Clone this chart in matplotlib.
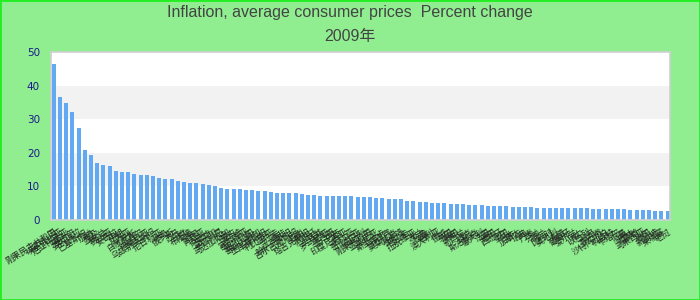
import numpy as np
import matplotlib
matplotlib.use("Agg")
import matplotlib.pyplot as plt
import matplotlib.patches as mpatches

# 2009 average consumer price inflation, percent change
countries = [
    "刚果民主共和国", "埃塞俄比亚", "厄立特里亚", "塞舌尔", "委内瑞拉",
    "巴基斯坦", "加纳", "埃及", "乌克兰", "赞比亚",
    "安哥拉", "伊朗", "几内亚", "白俄罗斯", "尼泊尔",
    "坦桑尼亚", "乌兹别克斯坦", "尼日利亚", "冰岛", "俄罗斯",
    "苏丹", "印度", "布隆迪", "缅甸", "肯尼亚",
    "卢旺达", "牙买加", "塞拉利昂", "马达加斯加", "蒙古",
    "马拉维", "塞尔维亚", "孟加拉国", "哥斯达黎加", "土库曼斯坦",
    "利比里亚", "乌拉圭", "南非", "哈萨克斯坦", "吉尔吉斯斯坦",
    "越南", "塔吉克斯坦", "阿根廷", "土耳其", "罗马尼亚",
    "墨西哥", "巴西", "印度尼西亚", "冈比亚", "哥伦比亚",
    "匈牙利", "刚果共和国", "亚美尼亚", "斯里兰卡", "菲律宾",
    "莫桑比克", "喀麦隆", "巴拉圭", "拉脱维亚", "波兰",
    "秘鲁", "智利", "澳大利亚", "挪威", "英国",
    "韩国", "新西兰", "捷克", "斯洛伐克", "意大利",
    "法国", "德国", "西班牙", "美国", "日本",
    "加拿大", "瑞典", "丹麦", "芬兰", "荷兰",
    "比利时", "奥地利", "希腊", "葡萄牙", "爱尔兰",
    "瑞士", "以色列", "约旦", "黎巴嫩", "沙特阿拉伯",
    "科威特", "卡塔尔", "阿曼", "巴林", "阿联酋",
    "马来西亚", "泰国", "新加坡", "柬埔寨", "老挝",
]
inflation = [
    46.3, 36.5, 34.9, 32.2, 27.3, 20.8, 19.3, 16.9, 16.3, 16.0,
    14.6, 14.3, 14.3, 13.7, 13.4, 13.4, 13.1, 12.5, 12.2, 12.2,
    11.6, 11.3, 11.0, 11.0, 10.7, 10.4, 10.1, 9.5, 9.2, 9.2,
    9.2, 8.9, 8.9, 8.6, 8.6, 8.3, 8.0, 8.0, 8.0, 8.0,
    7.7, 7.4, 7.4, 7.1, 7.1, 7.1, 7.1, 7.1, 7.1, 6.8,
    6.8, 6.8, 6.5, 6.5, 6.2, 6.2, 6.2, 5.6, 5.6, 5.3,
    5.3, 5.0, 5.0, 5.0, 4.75, 4.75, 4.75, 4.45, 4.45, 4.45,
    4.15, 4.15, 4.15, 4.15, 3.86, 3.86, 3.86, 3.86, 3.56, 3.56,
    3.56, 3.56, 3.56, 3.56, 3.56, 3.56, 3.56, 3.27, 3.27, 3.27,
    3.27, 3.27, 3.27, 2.97, 2.97, 2.97, 2.97, 2.67, 2.67, 2.67,
]
y_ticks = [0, 10, 20, 30, 40, 50]

BG = "#90ee90"
BAR = "#63a9f2"

fig = plt.figure(figsize=(7, 3), dpi=100, facecolor=BG)
# thin bright green frame round the figure
fig.patches.append(mpatches.Rectangle((0, 0), 1, 1, transform=fig.transFigure,
                                      fill=False, edgecolor="#22ee22", linewidth=2))

ax = fig.add_axes([51 / 700, 1 - 220 / 300, 619 / 700, 168 / 300])
ax.set_facecolor("white")

# alternating horizontal bands
for lo, hi in zip(y_ticks[:-1], y_ticks[1:]):
    if (lo // 10) % 2 == 1:
        ax.axhspan(lo, hi, color="#f2f2f2", zorder=0, linewidth=0)

x = np.arange(len(inflation))
ax.bar(x, inflation, width=0.65, color=BAR, zorder=2)

ax.set_xlim(-0.44, len(inflation) - 0.62)
ax.set_ylim(0, 50)
ax.set_yticks(y_ticks)
ax.tick_params(axis="y", length=0, pad=8, labelsize=7.5, labelcolor="#1a1a8c")
ax.set_xticks(x)
ax.set_xticklabels(countries, rotation=32, ha="right", rotation_mode="anchor",
                   fontsize=6, color="#222222",
                   family=["Noto Sans CJK SC", "DejaVu Sans"])
ax.tick_params(axis="x", length=0, pad=5)
for sp in ax.spines.values():
    sp.set_color("#d0d0d0")
    sp.set_linewidth(1.2)

fig.text(0.5, 1 - 13 / 300, "Inflation, average consumer prices  Percent change",
         ha="center", va="center", fontsize=11.5, color="#444444",
         family="Liberation Sans")
fig.text(0.5, 1 - 37 / 300, "2009年", ha="center", va="center", fontsize=11.5,
         color="#444444", family=["Liberation Sans", "Noto Sans CJK SC"])

fig.savefig("out.png", dpi=100, facecolor=BG)
